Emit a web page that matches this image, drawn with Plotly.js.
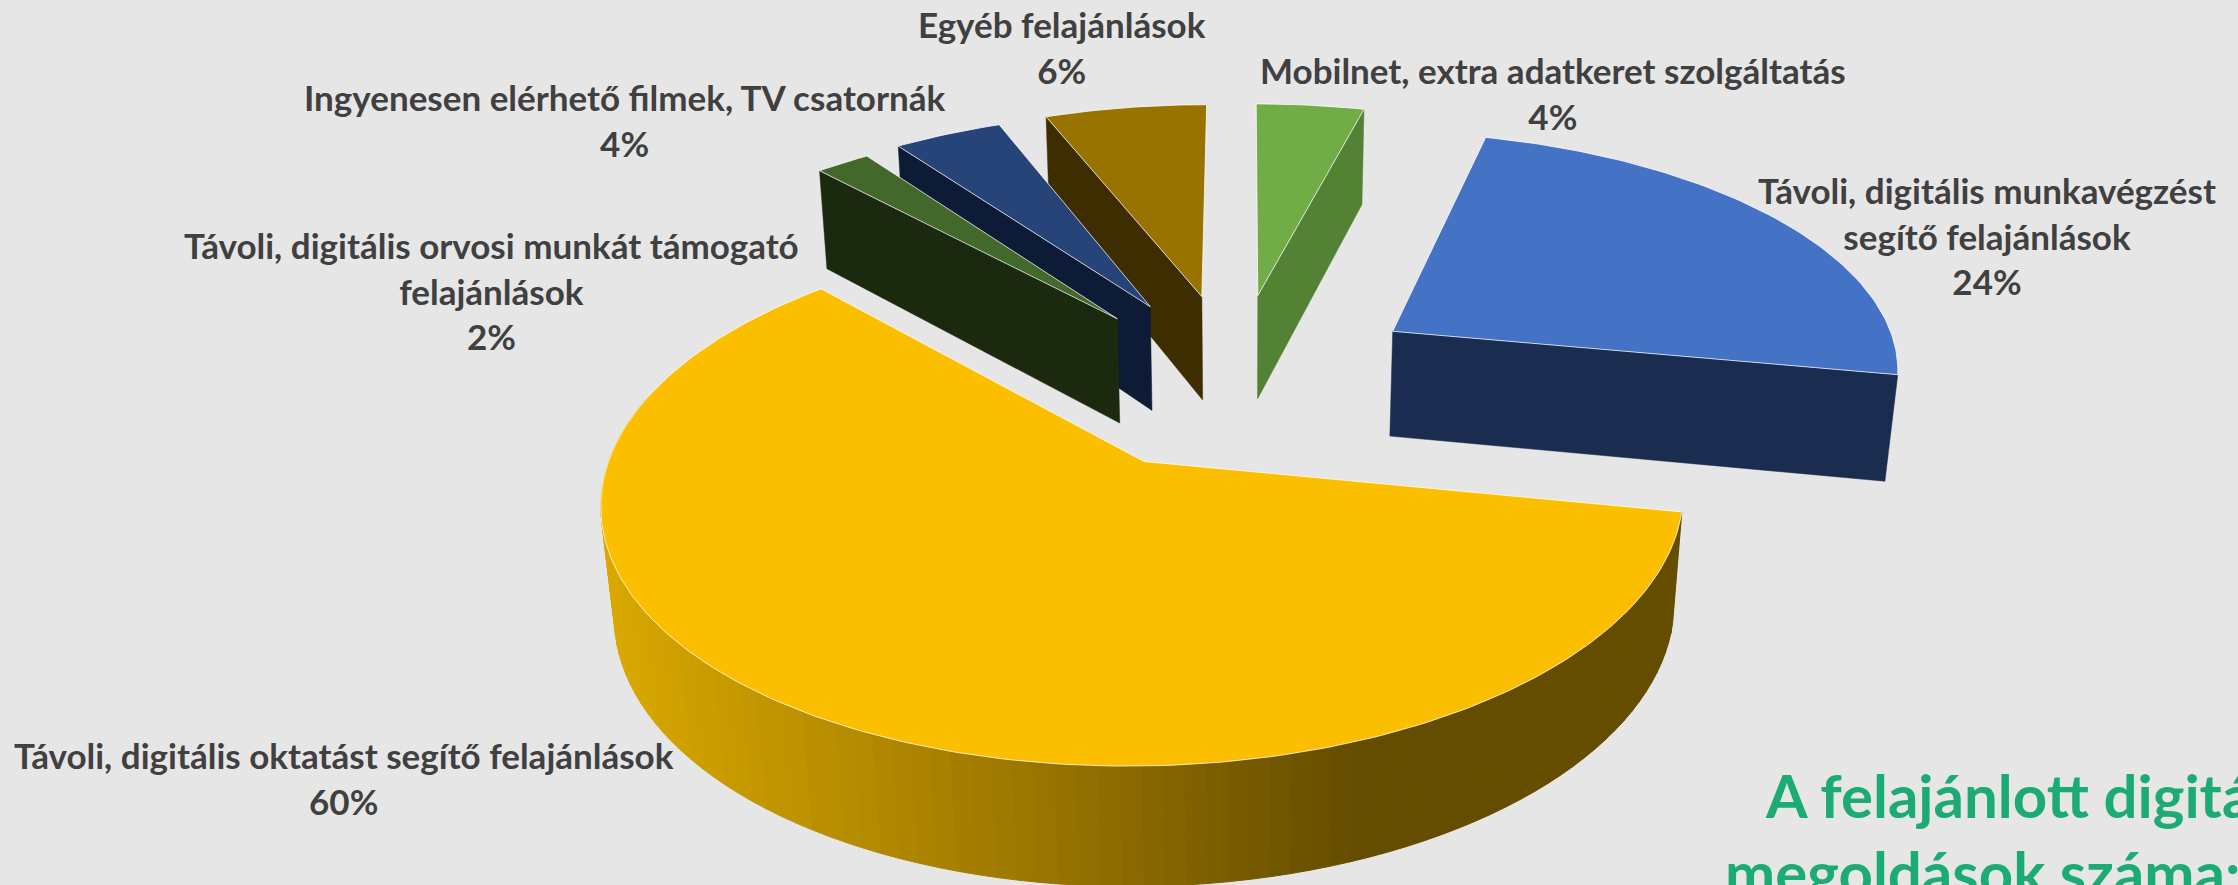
<!DOCTYPE html>
<html><head><meta charset="utf-8">
<script src="https://cdn.plot.ly/plotly-3.0.1.min.js"></script>
<style>html,body{margin:0;padding:0;background:#E7E6E6;overflow:hidden}#c{width:2238px;height:885px}</style>
</head><body><div id="c"></div>
<script>
// Values, clockwise from 12 o'clock
const sliceNames = ['Mobilnet, extra adatkeret szolgáltatás','Távoli, digitális munkavégzést<br>segítő felajánlások','Távoli, digitális oktatást segítő felajánlások','Távoli, digitális orvosi munkát támogató<br>felajánlások','Ingyenesen elérhető filmek, TV csatornák','Egyéb felajánlások'];
const sliceValues = [4,24,60,2,4,6];
const topColors  = ['#70AD47','#4472C4','#FBBF00','#43682B','#264478','#997300'];
const wallColors = ['#548235','#1A2C50','#654D00','#1B2A0E','#0D1B36','#3D2D00'];
const wallSide   = ['end','end','arc','start','start','start'];
const explode    = [0.345,0.35,0.40,0.35,0.35,0.35];
const explodeTurn= [-2.5,1,-1,-7.5,-4.3,-3.5];
const paintOrder = [5,4,3,0,1,2];
const labelX = [1553,1987,344,491,624,1062];
const labelY = [93,235,778,290,120,47];
const gradX = [600,1000,1350];
const gradRGB = [[219,169,0],[160,122,0],[101,77,0]];

// View of the pie plane
const Xo=1244,Yo=373.5,Rad=510,A=237,B=108.6,K=0.135,G=0.02;
const rad=d=>d*Math.PI/180;
function proj(x,y,d){const w=1+K*y+G*d;return [Xo+Rad*x/w,Yo+(-A*y+B*d)/w];}

const total=sliceValues.reduce((a,b)=>a+b,0);
let acc=0;
const slices=sliceValues.map((v,i)=>{const s=acc/total*360;acc+=v;const e=acc/total*360;const m=(s+e)/2+explodeTurn[i];
  return {s,e,ax:explode[i]*Math.sin(rad(m)),ay:explode[i]*Math.cos(rad(m))};});
const apex=(sl,d)=>proj(sl.ax,sl.ay,d);
const rim=(sl,a,d)=>proj(sl.ax+Math.sin(rad(a)),sl.ay+Math.cos(rad(a)),d);

function poly(pts,fill,line,lw){return {type:'scatter',mode:'lines',x:pts.map(p=>p[0]),y:pts.map(p=>p[1]),fill:'toself',fillcolor:fill,
  line:{color:line,width:lw},hoverinfo:'skip',showlegend:false};}
function gradColor(x){let i=0;if(x<=gradX[0])return rgb(gradRGB[0]);if(x>=gradX[2])return rgb(gradRGB[2]);
  if(x>gradX[1])i=1;const t=(x-gradX[i])/(gradX[i+1]-gradX[i]);
  return rgb(gradRGB[i].map((c,j)=>c+(gradRGB[i+1][j]-c)*t));}
function rgb(c){return 'rgb('+c.map(Math.round).join(',')+')';}

const traces=[];
paintOrder.forEach(i=>{
  const sl=slices[i];
  if(wallSide[i]==='arc'){
    const end=Math.min(sl.e,285);
    for(let a=sl.s;a<end;a+=2){const b=Math.min(a+2,end);
      const q=[rim(sl,a,0),rim(sl,b,0),rim(sl,b,1),rim(sl,a,1)];q.push(q[0]);
      const c=gradColor((q[0][0]+q[1][0]+q[2][0]+q[3][0])/4);
      traces.push(poly(q,c,c,1));}
  } else {
    const a=wallSide[i]==='start'?sl.s:sl.e;
    const q=[apex(sl,0),rim(sl,a,0),rim(sl,a,1),apex(sl,1)];q.push(q[0]);
    traces.push(poly(q,wallColors[i],wallColors[i],0.5));
  }
  const t=[apex(sl,0)];
  for(let a=sl.s;a<sl.e;a+=1)t.push(rim(sl,a,0));
  t.push(rim(sl,sl.e,0));t.push(t[0]);
  traces.push(poly(t,topColors[i],'rgba(255,255,255,0.75)',1));
});

const FONT='Lato, "Open Sans", sans-serif';
const annotations=sliceNames.map((n,i)=>({x:labelX[i],y:labelY[i],xref:'x',yref:'y',showarrow:false,xanchor:'center',yanchor:'middle',align:'center',
  text:'<b>'+n+'<br>'+sliceValues[i]+'%</b>',font:{family:FONT,size:35,color:'#404040'}}));
annotations.push({x:1763,y:795,xref:'x',yref:'y',showarrow:false,xanchor:'left',yanchor:'middle',text:'<b>A felajánlott digitális</b>',font:{family:FONT,size:60,color:'#1CAB74'}});
annotations.push({x:1723,y:872,xref:'x',yref:'y',showarrow:false,xanchor:'left',yanchor:'middle',text:'<b>megoldások száma:</b>',font:{family:FONT,size:60,color:'#1CAB74'}});

Plotly.newPlot('c',traces,{
  width:2238,height:885,margin:{l:0,r:0,t:0,b:0},paper_bgcolor:'#E7E6E6',plot_bgcolor:'#E7E6E6',showlegend:false,
  xaxis:{range:[0,2238],visible:false,fixedrange:true},
  yaxis:{range:[885,0],visible:false,fixedrange:true},
  annotations
},{displayModeBar:false,staticPlot:true});
</script></body></html>
